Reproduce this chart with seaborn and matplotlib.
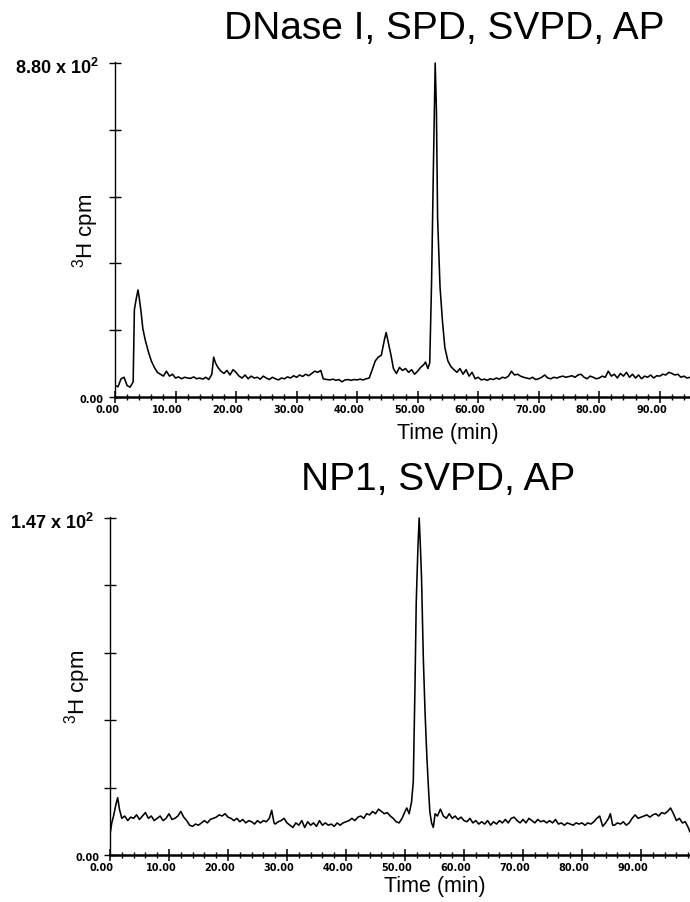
import matplotlib
matplotlib.use("Agg")
import matplotlib.pyplot as plt
import matplotlib.transforms as mtransforms
import seaborn as sns
import pandas as pd

# ---------------- data ----------------
title_top = "DNase I, SPD, SVPD, AP"
title_bottom = "NP1, SVPD, AP"
ymax_top = 880.0
ymax_bottom = 147.0
ymax_top_label = "8.80 x 10$^\\mathbf{2}$"
ymax_bottom_label = "1.47 x 10$^\\mathbf{2}$"
ymin_label = "0.00"
xtick_labels = ["0.00", "10.00", "20.00", "30.00", "40.00", "50.00",
                "60.00", "70.00", "80.00", "90.00"]
xlabel = "Time (min)"
ylabel = "$^3$H cpm"

time_top = [0.0, 0.5, 1.0, 1.5, 2.0, 2.5, 3.0, 3.2, 3.5, 3.8, 4.0, 4.3, 4.6, 5.0,
            5.5, 6.0, 6.5, 7.0, 7.5, 8.0, 8.5, 9.0, 9.5, 10.0, 10.5, 11.0, 11.5,
            12.0, 12.5, 13.0, 13.5, 14.0, 14.5, 15.0, 15.5, 16.0, 16.3, 16.6, 17.0,
            17.5, 18.0, 18.5, 19.0, 19.5, 20.0, 20.5, 21.0, 21.5, 22.0, 22.5, 23.0,
            23.5, 24.0, 24.5, 25.0, 25.5, 26.0, 26.5, 27.0, 27.5, 28.0, 28.5, 29.0,
            29.5, 30.0, 30.5, 31.0, 31.5, 32.0, 32.5, 33.0, 33.5, 34.0, 34.4, 35.0,
            35.5, 36.0, 36.5, 37.0, 37.5, 38.0, 38.5, 39.0, 39.5, 40.0, 40.5, 41.0,
            41.5, 42.0, 42.5, 43.0, 43.5, 44.0, 44.5, 44.8, 45.2, 45.6, 46.0, 46.5,
            47.0, 47.5, 48.0, 48.5, 49.0, 49.5, 50.0, 50.5, 51.0, 51.3, 51.7, 52.0,
            52.3, 52.6, 52.9, 53.1, 53.3, 53.7, 54.1, 54.5, 55.0, 55.5, 56.0, 56.5,
            57.0, 57.5, 58.0, 58.5, 59.0, 59.5, 60.0, 60.5, 61.0, 61.5, 62.0, 62.5,
            63.0, 63.5, 64.0, 64.5, 65.0, 65.5, 66.0, 66.5, 67.0, 67.5, 68.0, 68.5,
            69.0, 69.5, 70.0, 70.5, 71.0, 71.5, 72.0, 72.5, 73.0, 73.5, 74.0, 74.5,
            75.0, 75.5, 76.0, 76.5, 77.0, 77.5, 78.0, 78.5, 79.0, 79.5, 80.0, 80.5,
            81.0, 81.5, 82.0, 82.5, 83.0, 83.5, 84.0, 84.5, 85.0, 85.5, 86.0, 86.5,
            87.0, 87.5, 88.0, 88.5, 89.0, 89.5, 90.0, 90.5, 91.0, 91.5, 92.0, 92.5,
            93.0, 93.5, 94.0, 94.5, 95.0, 95.5]
cpm_top = [30, 27, 48, 52, 30, 26, 40, 230, 258, 282, 262, 225, 180, 150,
           120, 95, 78, 65, 60, 55, 68, 55, 60, 50, 53, 48, 52,
           50, 49, 53, 48, 50, 47, 52, 46, 60, 105, 90, 78,
           68, 62, 70, 58, 72, 65, 55, 50, 58, 48, 55, 50,
           52, 47, 55, 50, 46, 52, 48, 45, 50, 48, 53, 50,
           56, 52, 58, 54, 60, 56, 62, 68, 65, 70, 48, 46,
           45, 47, 44, 46, 40, 45, 46, 44, 46, 45, 47, 45,
           48, 50, 72, 95, 105, 110, 150, 170, 140, 110, 75, 62,
           78, 70, 75, 65, 72, 60, 68, 78, 85, 92, 75, 90,
           300, 600, 880, 760, 470, 290, 200, 130, 95, 80, 72, 65,
           75, 60, 72, 55, 65, 48, 52, 45, 47, 44, 48, 46,
           50, 47, 52, 50, 55, 68, 58, 60, 55, 52, 50, 48,
           52, 46, 48, 52, 58, 50, 48, 52, 50, 53, 55, 52,
           54, 56, 52, 58, 60, 52, 48, 55, 52, 48, 50, 55,
           52, 68, 55, 60, 50, 62, 55, 65, 52, 60, 50, 58,
           48, 55, 52, 58, 50, 56, 55, 60, 58, 65, 62, 58,
           60, 52, 55, 50, 52, 48]

time_bottom = [0.0, 0.3, 0.6, 1.0, 1.3, 1.6, 2.0, 2.5, 3.0, 3.5, 4.0, 4.5, 5.0, 5.5,
               6.0, 6.5, 7.0, 7.5, 8.0, 8.5, 9.0, 9.5, 10.0, 10.5, 11.0, 11.5, 12.0,
               12.5, 13.0, 13.5, 14.0, 14.5, 15.0, 15.5, 16.0, 16.5, 17.0, 17.5, 18.0,
               18.5, 19.0, 19.5, 20.0, 20.5, 21.0, 21.5, 22.0, 22.5, 23.0, 23.5, 24.0,
               24.5, 25.0, 25.5, 26.0, 26.5, 27.0, 27.4, 27.8, 28.0, 28.5, 29.0, 29.5,
               30.0, 30.5, 31.0, 31.5, 32.0, 32.5, 33.0, 33.5, 34.0, 34.5, 35.0, 35.5,
               36.0, 36.5, 37.0, 37.5, 38.0, 38.5, 39.0, 39.5, 40.0, 40.5, 41.0, 41.5,
               42.0, 42.5, 43.0, 43.5, 44.0, 44.5, 45.0, 45.5, 46.0, 46.5, 47.0, 47.5,
               48.0, 48.5, 49.0, 49.5, 50.0, 50.3, 50.7, 51.1, 51.4, 51.7, 51.9, 52.2,
               52.4, 52.6, 52.8, 53.1, 53.4, 53.7, 54.0, 54.2, 54.5, 54.8, 55.1, 55.5,
               56.0, 56.5, 57.0, 57.5, 58.0, 58.5, 59.0, 59.5, 60.0, 60.5, 61.0, 61.5,
               62.0, 62.5, 63.0, 63.5, 64.0, 64.5, 65.0, 65.5, 66.0, 66.5, 67.0, 67.5,
               68.0, 68.5, 69.0, 69.5, 70.0, 70.5, 71.0, 71.5, 72.0, 72.5, 73.0, 73.5,
               74.0, 74.5, 75.0, 75.5, 76.0, 76.5, 77.0, 77.5, 78.0, 78.5, 79.0, 79.5,
               80.0, 80.5, 81.0, 81.5, 82.0, 82.5, 83.0, 83.5, 84.0, 84.5, 84.8, 85.2,
               85.5, 86.0, 86.5, 87.0, 87.5, 88.0, 88.5, 89.0, 89.5, 90.0, 90.5, 91.0,
               91.5, 92.0, 92.5, 93.0, 93.5, 94.0, 94.5, 95.0, 95.5, 96.0, 96.5, 97.0,
               97.5, 98.0, 98.3]
cpm_bottom = [9, 14, 17, 22, 25, 20, 16, 17, 15, 16.5, 16, 17.5, 15.5, 17,
              18.5, 16, 17, 15, 16, 17, 15, 16, 18, 15.5, 16, 17, 19,
              16.5, 15, 13, 12.5, 13.5, 13, 14, 15, 14, 15.5, 16, 16.5,
              17.5, 17, 18, 16.5, 16, 15, 16, 14.5, 15.5, 14, 15, 14.5,
              13.5, 15, 14, 15, 14.5, 16, 19.5, 14, 13.5, 14.5, 15, 16,
              14, 13, 12, 14, 13, 15, 12, 14.5, 13, 14, 12.5, 15,
              13, 14, 13, 13.5, 12.5, 14, 13, 14, 14.5, 15, 16, 15,
              16.5, 17, 16, 18, 17.5, 19, 18, 20, 19, 18, 18.5, 17,
              16, 14.5, 14, 16, 19, 20.5, 18, 23, 32, 75, 110, 135,
              147, 135, 121, 86, 62, 43, 28, 19, 14, 12, 18, 17,
              20, 17, 16, 18, 16, 17, 15.5, 16.5, 15, 14.5, 16, 14,
              15, 13.5, 14.5, 13.5, 15, 13, 14.5, 13.5, 15, 14, 15.5, 14,
              16, 16.5, 15, 14, 15.5, 14, 16, 15, 14, 15.5, 14.5, 15,
              14, 15, 14, 15.5, 13.5, 14, 13, 14, 13.5, 13, 14, 13.5,
              14, 13, 14, 13.5, 14.5, 16, 17, 12.5, 14, 16, 18, 13,
              13, 14, 13.5, 14.5, 13, 14, 16, 17.5, 16, 16.5, 17, 17.5,
              16.5, 17.5, 18, 17, 18.5, 18, 19, 20.5, 18, 15, 16, 14,
              14.5, 12, 10]

# ---------------- style ----------------
sns.set_style("white")
plt.rcParams["font.family"] = ["Liberation Sans", "DejaVu Sans"]
plt.rcParams["text.color"] = "black"
plt.rcParams["axes.edgecolor"] = "black"
plt.rcParams["xtick.color"] = "black"
plt.rcParams["ytick.color"] = "black"
plt.rcParams["mathtext.fontset"] = "custom"
plt.rcParams["mathtext.rm"] = "Liberation Sans"
plt.rcParams["mathtext.bf"] = "Liberation Sans:bold"

W, H = 690, 903
fig = plt.figure(figsize=(W / 100, H / 100), dpi=100)


def fx(px):
    return px / W


def fy(py):
    return 1 - py / H


def px_axes(left, top, right, bottom):
    return fig.add_axes([left / W, 1 - bottom / H, (right - left) / W, (bottom - top) / H])


def draw_panel(ax, t, y, ymax, xmax, top_label, title, title_left, title_base,
               ylab_x, time_x, time_y, left_px, top_px, bottom_px):
    df = pd.DataFrame({"t": t, "cpm": y})
    sns.lineplot(data=df, x="t", y="cpm", ax=ax, color="black", lw=1.15,
                 estimator=None, sort=False)
    ax.set_xlim(0, xmax)
    ax.set_ylim(0, ymax * 1.003)
    for s in ("top", "right"):
        ax.spines[s].set_visible(False)
    ax.spines["left"].set_linewidth(1.0)
    ax.spines["bottom"].set_linewidth(1.8)
    ax.set_xlabel("")
    ax.set_ylabel("")
    ax.set_xticks([i * 10 for i in range(10)])
    ax.set_xticks([i * 2 for i in range(int(xmax // 2) + 1)], minor=True)
    ax.set_xticklabels(xtick_labels, fontsize=7, fontweight="bold",
                       family=["DejaVu Sans"])
    ax.set_yticks([ymax * k / 5 for k in range(6)])
    ax.set_yticklabels([])
    ax.tick_params(axis="both", which="both", bottom=True, left=True)
    ax.tick_params(axis="x", which="major", direction="inout", length=8,
                   width=1.1, pad=1)
    ax.tick_params(axis="x", which="minor", direction="inout", length=5,
                   width=1.0)
    ax.tick_params(axis="y", which="major", direction="inout", length=8,
                   width=1.0)
    off = mtransforms.ScaledTranslation(-0.08, 0, fig.dpi_scale_trans)
    for lab in ax.get_xticklabels():
        lab.set_transform(lab.get_transform() + off)
    # labels
    fig.text(fx(left_px - 16), fy(top_px + 5), top_label,
             fontsize=13, fontweight="bold", ha="right", va="center")
    fig.text(fx(left_px - 11), fy(bottom_px + 2), ymin_label,
             fontsize=7, fontweight="bold", ha="right", va="center",
             family=["DejaVu Sans"])
    fig.text(fx(title_left), fy(title_base), title, fontsize=28,
             ha="left", va="baseline")
    fig.text(fx(ylab_x), fy((top_px + bottom_px) / 2), ylabel, fontsize=16,
             rotation=90, ha="center", va="center")
    fig.text(fx(time_x), fy(time_y), xlabel, fontsize=15.5,
             ha="center", va="center")


ax1 = px_axes(115, 63, 690, 398)
draw_panel(ax1, time_top, cpm_top, ymax_top, 95.0, ymax_top_label, title_top,
           224, 39, 86, 448, 434, 115, 63, 398)

ax2 = px_axes(110, 518, 690, 856)
draw_panel(ax2, time_bottom, cpm_bottom, ymax_bottom, 98.3, ymax_bottom_label,
           title_bottom, 301, 490, 78, 435, 887, 110, 518, 856)

fig.savefig("out.png", dpi=100, facecolor="white")
